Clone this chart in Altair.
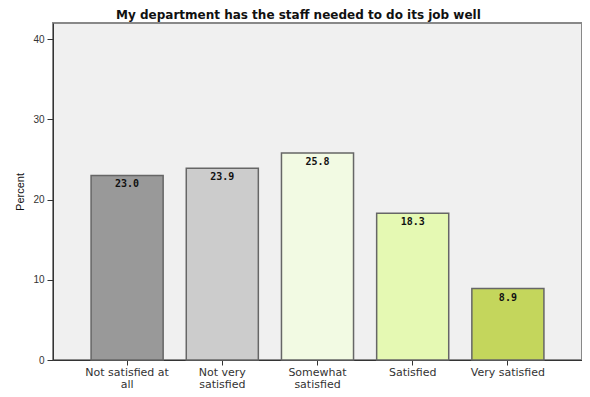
import altair as alt
import pandas as pd

categories = ["Not satisfied at all", "Not very satisfied", "Somewhat satisfied", "Satisfied", "Very satisfied"]
label_lines = [["Not satisfied at", "all"], ["Not very", "satisfied"], ["Somewhat", "satisfied"], ["Satisfied"], ["Very satisfied"]]
percent = [23.0, 23.9, 25.8, 18.3, 8.9]
colors = ["#999999", "#cccccc", "#f2fae3", "#e5f9b3", "#c4d65c"]
y_ticks = [0, 10, 20, 30, 40]

df = pd.DataFrame({"cat": categories, "pct": percent, "label": [f"{v:.1f}" for v in percent]})

# label expression for multi-line axis labels
expr = "datum.label"
for c, lines in reversed(list(zip(categories, label_lines))):
    arr = "[" + ",".join("'" + s + "'" for s in lines) + "]"
    expr = f"datum.label == '{c}' ? {arr} : ({expr})"

x = alt.X("cat:N", sort=categories, title=None,
          scale=alt.Scale(paddingInner=0.243, paddingOuter=0.40),
          axis=alt.Axis(labelAngle=0, labelExpr=expr, labelFont="DejaVu Sans", labelFontSize=11,
                        labelColor="#333333", labelLineHeight=12, labelPadding=1, labelBaseline="top",
                        tickSize=5, tickColor="#333333", domainColor="#333333", domainWidth=1,
                        grid=False))
y = alt.Y("pct:Q", title="Percent",
          scale=alt.Scale(domain=[0, 42], nice=False, zero=True),
          axis=alt.Axis(values=y_ticks, grid=False, tickSize=6, tickColor="#333333",
                        domainColor="#333333", labelFont="Liberation Sans", labelFontSize=10,
                        labelColor="#333333", labelPadding=3, titleFont="Liberation Sans",
                        titleFontSize=11, titleFontWeight="normal", titleColor="#111111",
                        titlePadding=7))

bars = alt.Chart(df).mark_bar(stroke="#666666", strokeWidth=1.5).encode(
    x=x, y=y,
    color=alt.Color("cat:N", sort=categories, scale=alt.Scale(domain=categories, range=colors), legend=None),
)
texts = alt.Chart(df).mark_text(baseline="top", dy=4, font="DejaVu Sans Mono", fontSize=10,
                                fontWeight="bold", color="#111111").encode(
    x=alt.X("cat:N", sort=categories), y=alt.Y("pct:Q"), text="label:N")

chart = alt.layer(bars, texts).properties(
    width=529, height=337,
    title=alt.Title("My department has the staff needed to do its job well", font="DejaVu Sans",
                    fontSize=12, fontWeight="bold", color="#111111", anchor="middle",
                    frame="bounds", offset=1),
    autosize=alt.AutoSizeParams(type="none"),
    padding={"left": 45, "top": 15, "right": 0, "bottom": 29},
).configure_view(fill="#f0f0f0", stroke="#888888", strokeWidth=2)

chart.save("out.html", embed_options={"renderer": "svg", "actions": False})
